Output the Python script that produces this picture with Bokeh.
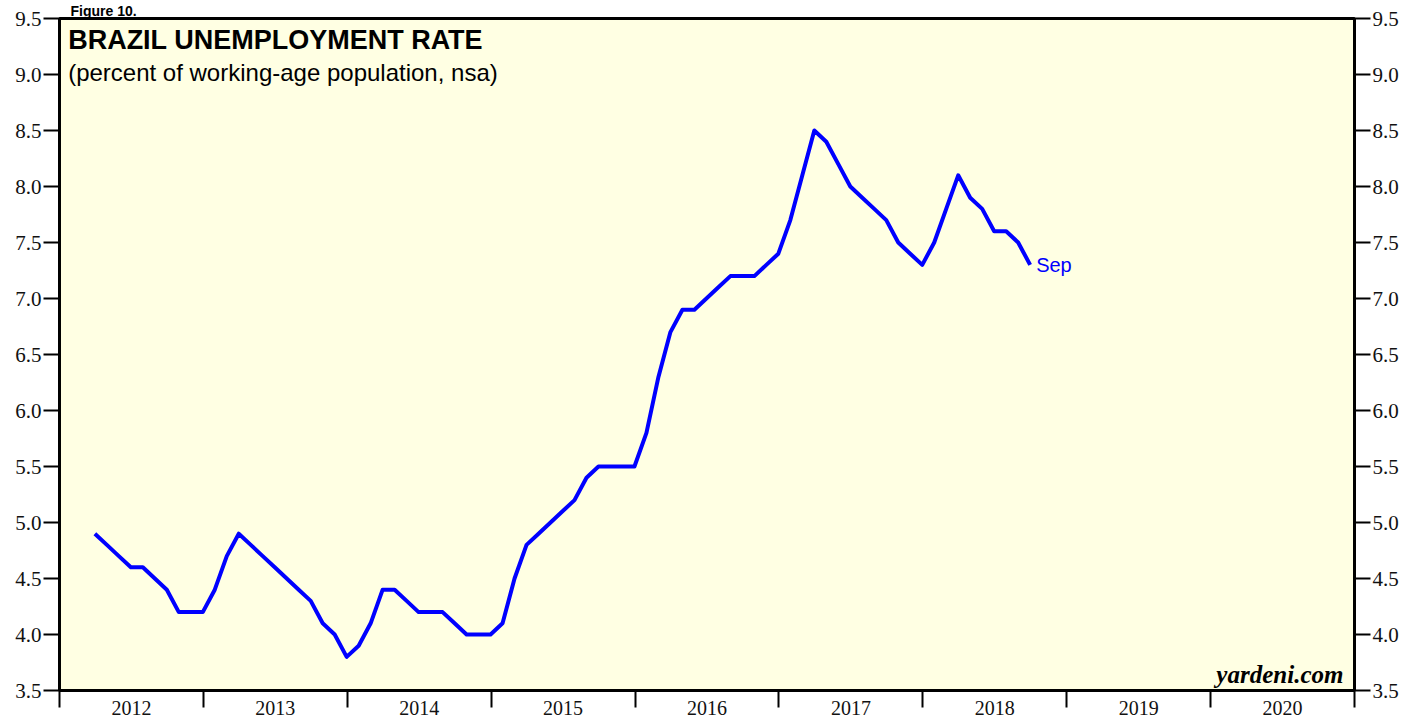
from bokeh.plotting import figure
from bokeh.models import Range1d, LinearAxis, FixedTicker, Label, NumeralTickFormatter, Title
from bokeh.embed import file_html
from bokeh.resources import INLINE

# ---- data ----
start_year = 2012
start_month = 3  # March 2012
unemployment = [
    4.9, 4.8, 4.7, 4.6, 4.6, 4.5, 4.4, 4.2, 4.2, 4.2,             # 2012 Mar-Dec
    4.4, 4.7, 4.9, 4.8, 4.7, 4.6, 4.5, 4.4, 4.3, 4.1, 4.0, 3.8,   # 2013
    3.9, 4.1, 4.4, 4.4, 4.3, 4.2, 4.2, 4.2, 4.1, 4.0, 4.0, 4.0,   # 2014
    4.1, 4.5, 4.8, 4.9, 5.0, 5.1, 5.2, 5.4, 5.5, 5.5, 5.5, 5.5,   # 2015
    5.8, 6.3, 6.7, 6.9, 6.9, 7.0, 7.1, 7.2, 7.2, 7.2, 7.3, 7.4,   # 2016
    7.7, 8.1, 8.5, 8.4, 8.2, 8.0, 7.9, 7.8, 7.7, 7.5, 7.4, 7.3,   # 2017
    7.5, 7.8, 8.1, 7.9, 7.8, 7.6, 7.6, 7.5, 7.3,                  # 2018 Jan-Sep
]
year_labels = ["2012", "2013", "2014", "2015", "2016", "2017", "2018", "2019", "2020"]
y_ticks = [3.5, 4.0, 4.5, 5.0, 5.5, 6.0, 6.5, 7.0, 7.5, 8.0, 8.5, 9.0, 9.5]
last_label = "Sep"

# month-end positions in fractional years
x = [start_year + (start_month - 1 + i + 0.95) / 12.0 for i in range(len(unemployment))]

first_year = int(year_labels[0])
n_years = len(year_labels)

SERIF = "Liberation Serif"
SANS = "Liberation Sans"

p = figure(width=1410, height=721,
           x_range=Range1d(first_year, first_year + n_years),
           y_range=Range1d(y_ticks[0], y_ticks[-1]),
           x_axis_type=None, y_axis_type=None,
           output_backend="svg", toolbar_location=None,
           min_border_left=59, min_border_right=56,
           min_border_top=18, min_border_bottom=31,
           title=Title(text="Figure 10.", align="left", offset=11, standoff=0,
                       text_font=SANS, text_font_style="bold", text_font_size="14px",
                       text_color="black"))

p.background_fill_color = "#FFFFE3"
p.border_fill_color = "white"
p.outline_line_color = "black"
p.outline_line_width = 3
p.grid.visible = False

yt = FixedTicker(ticks=y_ticks)
for loc in ("left", "right"):
    ax = LinearAxis(ticker=yt, formatter=NumeralTickFormatter(format="0.0"))
    ax.axis_line_width = 3
    ax.axis_line_color = "black"
    ax.major_tick_out = 16
    ax.major_tick_in = 0
    ax.major_tick_line_width = 2
    ax.major_tick_line_color = "black"
    ax.minor_tick_out = 0
    ax.minor_tick_in = 0
    ax.major_label_text_font = SERIF
    ax.major_label_text_font_size = "21px"
    ax.major_label_text_color = "#111111"
    ax.major_label_standoff = 2
    p.add_layout(ax, loc)

mid_ticks = [first_year + i + 0.5 for i in range(n_years)]
xt = FixedTicker(ticks=mid_ticks, minor_ticks=[first_year + i for i in range(n_years + 1)])
xa = LinearAxis(ticker=xt,
                major_label_overrides={t: lab for t, lab in zip(mid_ticks, year_labels)})
xa.axis_line_width = 3
xa.axis_line_color = "black"
xa.major_tick_out = 0
xa.major_tick_in = 0
xa.minor_tick_out = 17
xa.minor_tick_in = 0
xa.minor_tick_line_width = 2
xa.minor_tick_line_color = "black"
xa.major_label_text_font = SERIF
xa.major_label_text_font_size = "20px"
xa.major_label_text_color = "#111111"
xa.major_label_standoff = -7
p.add_layout(xa, "below")

p.line(x, unemployment, line_color="#0000FF", line_width=4, line_join="round")

p.add_layout(Label(x=first_year + 0.06, y=9.3125, text="BRAZIL UNEMPLOYMENT RATE",
                   text_font=SANS, text_font_style="bold", text_font_size="27px",
                   text_baseline="middle", text_color="black"))
p.add_layout(Label(x=first_year + 0.06, y=9.018, text="(percent of working-age population, nsa)",
                   text_font=SANS, text_font_size="24px",
                   text_baseline="middle", text_color="black"))
p.add_layout(Label(x=first_year + 8.923, y=3.643, text="yardeni.com",
                   text_font=SERIF, text_font_style="bold italic", text_font_size="25px",
                   text_align="right", text_baseline="middle", text_color="black"))
p.add_layout(Label(x=x[-1], y=unemployment[-1], x_offset=6, text=last_label,
                   text_font=SANS, text_font_size="20px",
                   text_baseline="middle", text_color="#0000FF"))

open("out.html", "w").write(file_html(p, INLINE))
